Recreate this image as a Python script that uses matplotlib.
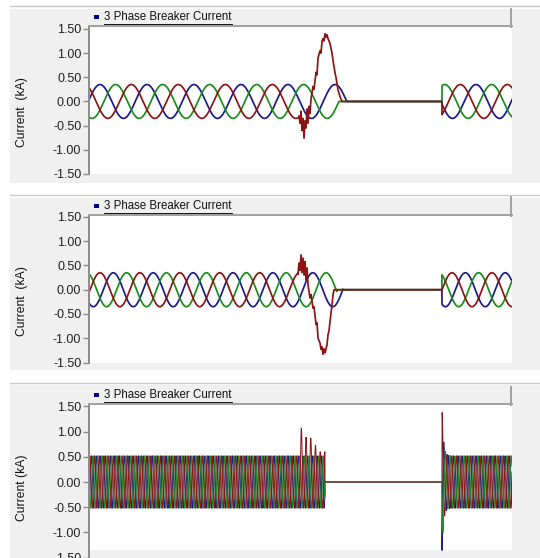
import numpy as np
import matplotlib
matplotlib.use('Agg')
from matplotlib import pyplot as plt
from matplotlib.patches import Rectangle
from matplotlib.lines import Line2D

W, H = 540, 558

c_blue = '#1a1a8c'
c_red = '#8c1414'
c_green = '#1c8c1c'

title = '3 Phase Breaker Current'
ylabels = ['Current  (kA)', 'Current  (kA)', 'Current (kA)']
yticks = [-1.5, -1.0, -0.5, 0.0, 0.5, 1.0, 1.5]
yticklabels = ['-1.50', '-1.00', '-0.50', '0.00', '0.50', '1.00', '1.50']

f_sys = 50.0  # Hz, times below in ms

# panel 1 : single phase fault on red, breaker opens, recloses
p1_t_end = 180.0
p1_amp = 0.35
p1_phase = 0.10                    # blue angle at t=0 (rad), red +120, green -120
p1_open = [109.7, 107.7, 106.3]    # blue, red, green current zero
p1_close = 150.2
p1_fault_t = [89.36, 89.79, 90.21, 90.64, 91.06, 91.49, 91.91, 92.34, 92.77, 93.19,
              93.62, 94.04, 94.47, 95.32, 95.74, 96.60, 97.02, 97.45, 98.30, 98.72,
              99.15, 99.57, 100.0, 100.43, 100.85, 101.28, 101.70, 102.55, 103.40,
              103.83, 104.68, 105.11, 105.96, 106.81, 107.66]
p1_fault_i = [-0.30, -0.45, -0.20, -0.60, -0.35, -0.76, -0.40, -0.55, -0.15, -0.45,
              -0.10, -0.25, 0.05, 0.31, 0.25, 0.60, 0.55, 0.90, 1.05, 1.00,
              1.24, 1.30, 1.25, 1.40, 1.33, 1.38, 1.30, 1.20, 1.00,
              0.85, 0.59, 0.50, 0.24, 0.10, 0.00]

# panel 2
p2_t_end = 212.0
p2_amp = 0.35
p2_phase = -2.254
p2_phase_after = -1.137
p2_open = [127.3, 122.8, 124.2]
p2_close = 176.9
p2_fault_t = [104.76, 105.26, 105.76, 106.27, 106.77, 107.27, 107.77, 108.27, 108.77,
              109.27, 109.77, 110.78, 111.28, 112.28, 112.78, 113.78, 114.29, 114.79,
              115.79, 116.29, 116.79, 117.29, 117.79, 118.30, 119.30, 119.80, 120.30,
              120.80, 121.80, 122.31, 122.81]
p2_fault_i = [0.32, 0.55, 0.40, 0.72, 0.35, 0.65, 0.30, 0.58, 0.20,
              0.45, 0.10, -0.17, -0.10, -0.38, -0.35, -0.72, -0.68, -1.00,
              -1.10, -1.23, -1.18, -1.33, -1.22, -1.30, -1.13, -0.92, -0.85,
              -0.65, -0.31, -0.10, 0.0]

# panel 3 : long window
p3_t_end = 1800.0
p3_amp = 0.52
p3_phase = -1.68
p3_fault = 898.0
p3_open = 1004.0
p3_close = 1502.0
p3_red_peaks = [1.07, 0.89, 0.87, 0.73, 0.60, 0.60]   # red positive peaks per cycle during fault
p3_surge = 2.0       # extra multiple at reclosing
p3_surge_tau = 6.0   # ms


def wave(t, amp, ph):
    return amp * np.sin(2 * np.pi * f_sys * t / 1000.0 + ph)


def three(t, amp, ph):
    return [wave(t, amp, ph), wave(t, amp, ph + 2 * np.pi / 3), wave(t, amp, ph - 2 * np.pi / 3)]


fig = plt.figure(figsize=(W / 100, H / 100), dpi=100)


def fx(x):
    return x / W


def fy(y):
    return 1 - y / H


def rect(x0, y0, x1, y1, z=3, **kw):
    fig.patches.append(Rectangle((fx(x0), fy(y1)), (x1 - x0) / W, (y1 - y0) / H,
                                 transform=fig.transFigure, zorder=z, **kw))


def pline(xs, ys, z=3, **kw):
    fig.lines.append(Line2D([fx(x) for x in xs], [fy(y) for y in ys],
                            transform=fig.transFigure, zorder=z, **kw))


# layout of the three panels (pixels)
panels = [
    dict(line=6, bg0=9, bg1=183, head=9, top=27, bot=174, ymax=1.54, lab=112),
    dict(line=195, bg0=198, bg1=370, head=197, top=216, bot=362.5, ymax=1.52, lab=301),
    dict(line=382.5, bg0=385, bg1=558, head=387, top=405, bot=557.7, ymax=1.526, lab=488),
]
x_left, x_right = 89, 512

axes = []
for k, p in enumerate(panels):
    pline([10, 540], [p['line'], p['line']], z=-2, color='#c8c8c8', lw=1.0)
    rect(10, p['bg0'], 540, p['bg1'], z=-2, facecolor='#f0f0f0', edgecolor='none')
    ax = fig.add_axes([fx(x_left), fy(p['bot']), (x_right - x_left) / W, (p['bot'] - p['top']) / H])
    ax.set_facecolor('white')
    ax.set_ylim(-1.5, p['ymax'])
    ax.set_yticks(yticks)
    ax.set_yticklabels(yticklabels, fontsize=9, family='Liberation Sans', color='#202020')
    ax.set_xticks([])
    for s in ['top', 'right', 'bottom']:
        ax.spines[s].set_visible(False)
    ax.spines['left'].set_color('#8c8c8c')
    ax.spines['left'].set_linewidth(1.4)
    ax.tick_params(axis='y', length=4, width=1.0, color='#8c8c8c', pad=1.5)
    # header border
    pline([x_left, x_right], [p['top'] - 0.8, p['top'] - 0.8], color='#a0a0a0', lw=1.4)
    pline([x_right - 0.8, x_right - 0.8], [p['head'], p['top']], color='#a0a0a0', lw=1.4)
    rect(94, p['top'] - 12, 99, p['top'] - 8, facecolor='#000080', edgecolor='none')
    txt = fig.text(fx(104), fy(p['top'] - 10), title, fontsize=8.3, family='Liberation Sans',
                   va='center', ha='left', color='#111111')
    p['txt'] = txt
    fig.text(fx(21.5), fy(p['lab']), ylabels[k], rotation=90, fontsize=8.7,
             family='Liberation Sans', ha='center', va='center', color='#111111')
    axes.append(ax)

# ---- panel 1
ax = axes[0]
t = np.arange(0, p1_t_end, 0.02)
b, r, g = three(t, p1_amp, p1_phase)
on_after = t >= p1_close
bi = b * ((t < p1_open[0]) | on_after)
gi = g * ((t < p1_open[2]) | on_after)
pre = t < p1_fault_t[0]
rt = np.concatenate([t[pre], p1_fault_t, [p1_close], t[on_after]])
ri = np.concatenate([r[pre], p1_fault_i, [0.0], r[on_after]])
ax.plot(t, bi, color=c_blue, lw=1.25)
ax.plot(t, gi, color=c_green, lw=1.25)
ax.plot(rt, ri, color=c_red, lw=1.25)
ax.set_xlim(0, p1_t_end)

# ---- panel 2
ax = axes[1]
t = np.arange(0, p2_t_end, 0.02)
b, r, g = three(t, p2_amp, p2_phase)
b2, r2, g2 = three(t, p2_amp, p2_phase_after)
on_after = t >= p2_close
bi = np.where(on_after, b2, b * (t < p2_open[0]))
gi = np.where(on_after, g2, g * (t < p2_open[2]))
pre = t < p2_fault_t[0]
rt = np.concatenate([t[pre], p2_fault_t, [p2_close], t[on_after]])
ri = np.concatenate([r[pre], p2_fault_i, [0.0], r2[on_after]])
ax.plot(t, bi, color=c_blue, lw=1.25)
ax.plot(t, gi, color=c_green, lw=1.25)
ax.plot(rt, ri, color=c_red, lw=1.25)
ax.set_xlim(0, p2_t_end)

# ---- panel 3
ax = axes[2]
t = np.arange(0, p3_t_end, 0.05)
b, r, g = three(t, p3_amp, p3_phase)
on = (t < p3_open) | (t >= p3_close)
surge = np.where(t >= p3_close, 1 + p3_surge * np.exp(-(t - p3_close) / p3_surge_tau), 1.0)
in_fault = (t >= p3_fault) & (t < p3_open)
cyc = np.clip(((t - p3_fault) // 20).astype(int), 0, len(p3_red_peaks) - 1)
scale = np.array(p3_red_peaks)[cyc] / p3_amp
r = np.where(in_fault & (r > 0), r * scale, r)
ax.axhspan(-1.6, -1.35, color='#f0f0f0', zorder=0.5, lw=0)
ax.plot(t, b * on * surge, color=c_blue, lw=0.7)
ax.plot(t, g * on * surge, color=c_green, lw=0.7)
ax.plot(t, r * on * surge, color=c_red, lw=0.7)
ax.set_xlim(0, p3_t_end)

# underline the header titles
fig.canvas.draw()
for p in panels:
    bb = p['txt'].get_window_extent()
    y = p['top'] - 3
    pline([bb.x0, bb.x1], [y, y], color='#111111', lw=0.7)

fig.savefig('out.png', dpi=100)
